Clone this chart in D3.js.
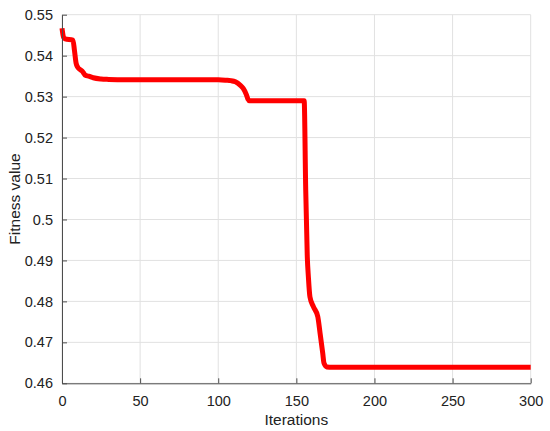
<!DOCTYPE html>
<html>
<head>
<meta charset="utf-8">
<script src="https://cdn.jsdelivr.net/npm/d3@7"></script>
<style>
  html, body { margin: 0; padding: 0; background: #fff; }
  svg { display: block; font-family: "Liberation Sans", Arial, Helvetica, sans-serif; }
</style>
</head>
<body>
<svg id="chart" width="550" height="431"></svg>
<script>
// ---- data ----
const iterations = [0, 1, 2, 7, 8, 9, 10, 12, 13, 15, 17, 20, 25, 30, 40, 100, 105, 108, 111, 114, 116, 118, 119, 120, 155, 156, 157, 157.7, 158.7, 160.9, 163.7, 165.2, 166.9, 167.7, 169.5, 173, 300];
const fitness    = [0.5467, 0.5445, 0.5441, 0.5438, 0.5412, 0.5382, 0.5372, 0.5365, 0.5362, 0.5352, 0.5350, 0.5346, 0.5343, 0.5342, 0.5341, 0.5341, 0.5340, 0.5339, 0.5336, 0.5328, 0.5320, 0.5305, 0.5294, 0.5290, 0.5290, 0.5072, 0.4909, 0.4860, 0.4811, 0.4787, 0.4763, 0.4722, 0.4673, 0.4649, 0.4640, 0.4639, 0.4639];
const xTicks = [0, 50, 100, 150, 200, 250, 300];
const yTicks = [0.46, 0.47, 0.48, 0.49, 0.5, 0.51, 0.52, 0.53, 0.54, 0.55];
const xLabel = "Iterations";
const yLabel = "Fitness value";

(function () {
// ---- layout ----
const svg = d3.select("#chart");
const pLeft = 62, pRight = 530.7, pTop = 14.7, pBottom = 383.3;
const x = d3.scaleLinear().domain([0, 300]).range([pLeft, pRight]);
const y = d3.scaleLinear().domain([0.46, 0.55]).range([pBottom, pTop]);
const axisColor = "#4d4d4d";
const textColor = "#222";
const gridColor = "#e1e1e1";

// grid
const grid = svg.append("g");
grid.selectAll("line.gx").data(xTicks).join("line")
  .attr("x1", d => x(d)).attr("x2", d => x(d))
  .attr("y1", pTop).attr("y2", pBottom)
  .attr("stroke", gridColor).attr("stroke-width", 1);
grid.selectAll("line.gy").data(yTicks).join("line")
  .attr("y1", d => y(d)).attr("y2", d => y(d))
  .attr("x1", pLeft).attr("x2", pRight)
  .attr("stroke", gridColor).attr("stroke-width", 1);

// line
const line = d3.line()
  .x((d, i) => x(iterations[i]))
  .y(d => y(d))
  .curve(d3.curveMonotoneX);
svg.append("path")
  .datum(fitness)
  .attr("d", line)
  .attr("fill", "none")
  .attr("stroke", "#ff0000")
  .attr("stroke-width", 5)
  .attr("stroke-linejoin", "round")
  .attr("stroke-linecap", "butt");

// axes
const fmt = d => String(+d.toFixed(2));
const xAxis = d3.axisBottom(x).tickValues(xTicks).tickSizeInner(-5).tickSizeOuter(0).tickPadding(12).tickFormat(d => d);
const yAxis = d3.axisLeft(y).tickValues(yTicks).tickSizeInner(-5).tickSizeOuter(0).tickPadding(9).tickFormat(fmt);

const gx = svg.append("g").attr("transform", `translate(0,${pBottom})`).call(xAxis);
const gy = svg.append("g").attr("transform", `translate(${pLeft},0)`).call(yAxis);
[gx, gy].forEach(g => {
  g.select(".domain").attr("stroke", axisColor).attr("stroke-width", 1);
  g.selectAll(".tick line").attr("stroke", axisColor);
  g.selectAll(".tick text").attr("fill", textColor).attr("font-size", "14.5px")
    .attr("font-family", "'Liberation Sans', Arial, sans-serif");
});

// axis labels
svg.append("text")
  .attr("x", (pLeft + pRight) / 2).attr("y", 425)
  .attr("text-anchor", "middle")
  .attr("font-size", "15.5px").attr("fill", textColor)
  .text(xLabel);
svg.append("text")
  .attr("transform", `translate(20,${(pTop + pBottom) / 2}) rotate(-90)`)
  .attr("text-anchor", "middle")
  .attr("font-size", "15.5px").attr("fill", textColor)
  .text(yLabel);
})();
</script>
</body>
</html>
